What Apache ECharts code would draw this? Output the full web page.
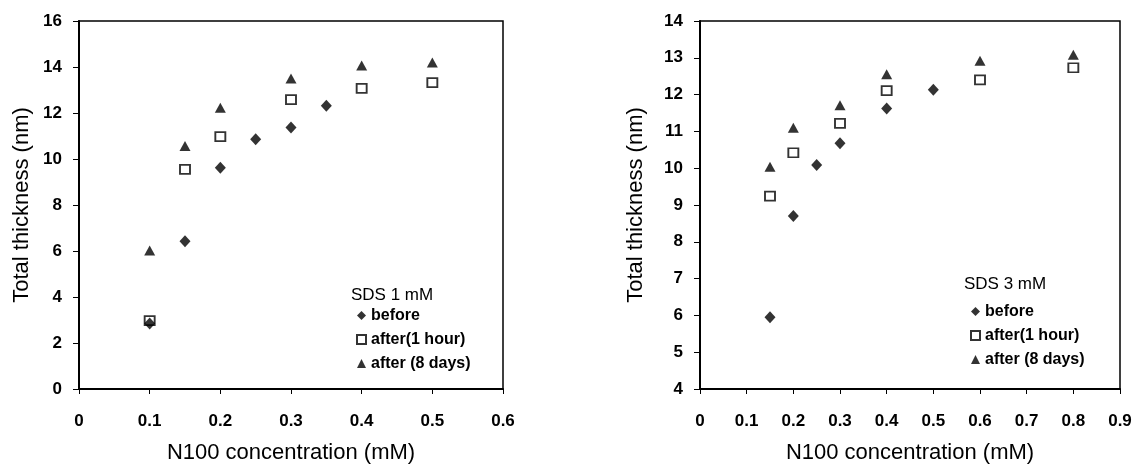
<!DOCTYPE html>
<html>
<head>
<meta charset="utf-8">
<script src="https://cdn.jsdelivr.net/npm/echarts@6/dist/echarts.min.js"></script>
<style>
html,body{margin:0;padding:0;background:#fff;}
#chart{width:1135px;height:464px;}
</style>
</head>
<body>
<div id="chart"></div>
<script>
// ---- Data (left panel: SDS 1 mM) ----
const leftBeforeX = [0.1, 0.15, 0.2, 0.25, 0.3, 0.35];
const leftBeforeY = [2.85, 6.42, 9.62, 10.86, 11.37, 12.32];
const leftHourX = [0.1, 0.15, 0.2, 0.3, 0.4, 0.5];
const leftHourY = [2.97, 9.55, 10.97, 12.58, 13.07, 13.32];
const leftDaysX = [0.1, 0.15, 0.2, 0.3, 0.4, 0.5];
const leftDaysY = [6.02, 10.57, 12.23, 13.5, 14.06, 14.2];

// ---- Data (right panel: SDS 3 mM) ----
const rightBeforeX = [0.15, 0.2, 0.25, 0.3, 0.4, 0.5];
const rightBeforeY = [5.95, 8.7, 10.09, 10.68, 11.62, 12.13];
const rightHourX = [0.15, 0.2, 0.3, 0.4, 0.6, 0.8];
const rightHourY = [9.24, 10.42, 11.22, 12.11, 12.4, 12.73];
const rightDaysX = [0.15, 0.2, 0.3, 0.4, 0.6, 0.8];
const rightDaysY = [10.04, 11.1, 11.71, 12.55, 12.92, 13.08];

const seriesNames = ['before', 'after(1 hour)', 'after (8 days)'];
const legendTitles = ['SDS 1 mM', 'SDS 3 mM'];
const xTitle = 'N100 concentration (mM)';
const yTitle = 'Total thickness (nm)';

function pairs(xs, ys) { return xs.map((x, i) => [x, ys[i]]); }

const FONT = 'Liberation Sans, Arial, sans-serif';
const markerStyles = [
  { symbol: 'diamond', symbolSize: [11, 12], itemStyle: { color: '#000' } },
  { symbol: 'rect', symbolSize: [10, 9], itemStyle: { color: '#fff', borderColor: '#000', borderWidth: 1.8 } },
  { symbol: 'triangle', symbolSize: [11, 10], itemStyle: { color: '#000' } }
];

function makeSeries(gridIdx, sets) {
  return sets.map((d, i) => Object.assign({
    type: 'scatter',
    name: seriesNames[i],
    xAxisIndex: gridIdx,
    yAxisIndex: gridIdx,
    data: d,
    z: 3 - i
  }, markerStyles[i]));
}

const axisLabel = { color: '#000', fontSize: 17, fontWeight: 'bold', fontFamily: FONT };
function xAxis(gridIndex, max) {
  return {
    type: 'value', gridIndex, min: 0, max, interval: 0.1,
    name: xTitle, nameLocation: 'middle', nameGap: 53,
    nameTextStyle: { color: '#000', fontSize: 22, fontFamily: FONT },
    axisLine: { show: true, onZero: false, lineStyle: { color: '#000', width: 2 } },
    axisTick: { show: true, inside: false, length: 5, lineStyle: { color: '#000', width: 1 } },
    axisLabel: Object.assign({ margin: 24 }, axisLabel),
    splitLine: { show: false }
  };
}
function yAxis(gridIndex, min, max, interval, gap) {
  return {
    type: 'value', gridIndex, min, max, interval,
    name: yTitle, nameLocation: 'middle', nameGap: gap,
    nameTextStyle: { color: '#000', fontSize: 22, fontFamily: FONT },
    axisLine: { show: true, onZero: false, lineStyle: { color: '#000', width: 2 } },
    axisTick: { show: true, inside: false, length: 6, lineStyle: { color: '#000', width: 1 } },
    axisLabel: Object.assign({ margin: 17 }, axisLabel),
    splitLine: { show: false }
  };
}

const legendCommon = {
  orient: 'vertical', padding: 0, itemWidth: 9, itemHeight: 9, itemGap: 7,
  selectedMode: false,
  textStyle: { color: '#000', fontSize: 16, fontWeight: 'bold', fontFamily: FONT, lineHeight: 17 }
};

const chart = echarts.init(document.getElementById('chart'), null, { renderer: 'canvas' });
chart.setOption({
  backgroundColor: '#fff',
  animation: false,
  title: [
    { text: legendTitles[0], left: 351, top: 287, padding: 0,
      textStyle: { color: '#000', fontSize: 17, fontWeight: 'normal', fontFamily: FONT } },
    { text: legendTitles[1], left: 964, top: 276, padding: 0,
      textStyle: { color: '#000', fontSize: 17, fontWeight: 'normal', fontFamily: FONT } }
  ],
  grid: [
    { left: 79, top: 21, width: 424, height: 368, show: true, borderColor: '#000', borderWidth: 1.5, containLabel: false, outerBoundsMode: 'none' },
    { left: 700, top: 21, width: 420, height: 368, show: true, borderColor: '#000', borderWidth: 1.5, containLabel: false, outerBoundsMode: 'none' }
  ],
  legend: [
    Object.assign({ left: 356, top: 307, data: seriesNames.map((n, i) => ({ name: n, icon: markerStyles[i].symbol })) }, legendCommon),
    Object.assign({ left: 970, top: 303, data: seriesNames.map((n, i) => ({ name: n, icon: markerStyles[i].symbol })) }, legendCommon)
  ],
  xAxis: [xAxis(0, 0.6), xAxis(1, 0.9)],
  yAxis: [yAxis(0, 0, 16, 2, 46), yAxis(1, 4, 14, 1, 53)],
  series: makeSeries(0, [pairs(leftBeforeX, leftBeforeY), pairs(leftHourX, leftHourY), pairs(leftDaysX, leftDaysY)])
    .concat(makeSeries(1, [pairs(rightBeforeX, rightBeforeY), pairs(rightHourX, rightHourY), pairs(rightDaysX, rightDaysY)]))
});
</script>
</body>
</html>
